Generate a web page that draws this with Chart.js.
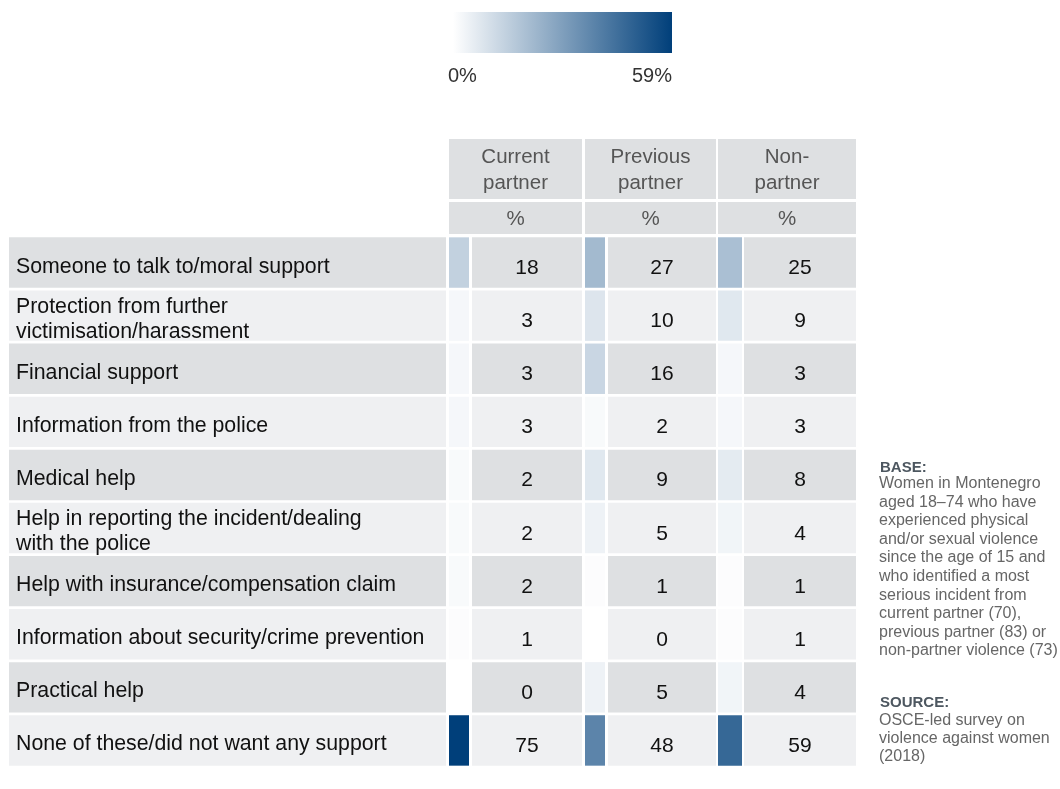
<!DOCTYPE html>
<html>
<head>
<meta charset="utf-8">
<script src="https://cdn.jsdelivr.net/npm/chart.js@4.4.1/dist/chart.umd.min.js"></script>
<style>
    html, body { margin: 0; padding: 0; background: #fff; }
    #wrap { width: 1060px; height: 789px; }
</style>
</head>
<body>
<div id="wrap"><canvas id="chart" width="1060" height="789"></canvas></div>
<script>
// ===================== DATA =====================
const supportTypes = [
    'Someone to talk to/moral support',
    ['Protection from further', 'victimisation/harassment'],
    'Financial support',
    'Information from the police',
    'Medical help',
    ['Help in reporting the incident/dealing', 'with the police'],
    'Help with insurance/compensation claim',
    'Information about security/crime prevention',
    'Practical help',
    'None of these/did not want any support'
];
const groupNames = [['Current', 'partner'], ['Previous', 'partner'], ['Non-', 'partner']];
const currentPartner = [18, 3, 3, 3, 2, 2, 2, 1, 0, 75];
const previousPartner = [27, 10, 16, 2, 9, 5, 1, 0, 5, 48];
const nonPartner = [25, 9, 3, 3, 8, 4, 1, 1, 4, 59];
const legendTicks = ['0%', '59%'];
const baseNote = [
    'Women in Montenegro',
    'aged 18\u201374 who have',
    'experienced physical',
    'and/or sexual violence',
    'since the age of 15 and',
    'who identified a most',
    'serious incident from',
    'current partner (70),',
    'previous partner (83) or',
    'non-partner violence (73)'
];
const sourceNote = ['OSCE-led survey on', 'violence against women', '(2018)'];

// ===================== LAYOUT & STYLE =====================
const FONT = '"Liberation Sans", Arial, sans-serif';
const ROW_DARK = '#dee0e2';
const ROW_LIGHT = '#eff0f2';
const DARK_BLUE = [0, 63, 122];

// x positions in axis units (1 unit = 1px of chart area)
const labelCell = [0, 437];
const columns = [
    { strip: [440, 460], cell: [463, 573], values: currentPartner },
    { strip: [576, 596], cell: [599, 707], values: previousPartner },
    { strip: [709, 733], cell: [735, 847], values: nonPartner }
];

const colorMax = Math.max(...currentPartner, ...previousPartner, ...nonPartner);

function shade(v) {
    const t = Math.min(1, v / colorMax);
    const c = DARK_BLUE.map(function(ch) { return Math.round(255 - t * (255 - ch)); });
    return 'rgb(' + c.join(',') + ')';
}

function rowFill(i) {
    return i % 2 === 0 ? ROW_DARK : ROW_LIGHT;
}

// ===================== DATASETS =====================
const barBase = {
    grouped: false,
    borderWidth: 0,
    borderSkipped: false,
    categoryPercentage: 1,
    barPercentage: 0.95
};

const datasets = [
    Object.assign({
        label: 'labels',
        data: supportTypes.map(function() { return labelCell; }),
        backgroundColor: supportTypes.map(function(_, i) { return rowFill(i); })
    }, barBase)
];

columns.forEach(function(col, c) {
    datasets.push(Object.assign({
        label: 'strip' + c,
        data: col.values.map(function() { return col.strip; }),
        backgroundColor: col.values.map(shade)
    }, barBase));
    datasets.push(Object.assign({
        label: 'cell' + c,
        data: col.values.map(function() { return col.cell; }),
        backgroundColor: col.values.map(function(_, i) { return rowFill(i); }),
        cellValues: col.values
    }, barBase));
});

// ===================== TEXT / DECORATION PLUGIN =====================
const tablePlugin = {
    id: 'tablePlugin',
    beforeDatasetsDraw: function(chart) {
        const ctx = chart.ctx;
        const x = chart.scales.x;
        ctx.save();

        // colour legend
        const gx0 = 453, gx1 = 672;
        const grad = ctx.createLinearGradient(gx0, 0, gx1, 0);
        grad.addColorStop(0, '#ffffff');
        grad.addColorStop(1, 'rgb(' + DARK_BLUE.join(',') + ')');
        ctx.fillStyle = grad;
        ctx.fillRect(gx0, 12, gx1 - gx0, 41);
        ctx.fillStyle = '#333';
        ctx.font = '20px ' + FONT;
        ctx.textBaseline = 'alphabetic';
        ctx.textAlign = 'left';
        ctx.fillText(legendTicks[0], 448, 82);
        ctx.textAlign = 'right';
        ctx.fillText(legendTicks[1], gx1, 82);

        // column headers
        columns.forEach(function(col, c) {
            const left = x.getPixelForValue(col.strip[0]);
            const right = x.getPixelForValue(col.cell[1]);
            const mid = (left + right) / 2;
            ctx.fillStyle = ROW_DARK;
            ctx.fillRect(left, 139, right - left, 60);
            ctx.fillRect(left, 202, right - left, 32);
            ctx.fillStyle = '#555';
            ctx.font = '20.5px ' + FONT;
            ctx.textAlign = 'center';
            ctx.fillText(groupNames[c][0], mid, 163);
            ctx.fillText(groupNames[c][1], mid, 189);
            ctx.fillText('%', mid, 225);
        });

        // notes on the right
        ctx.textAlign = 'left';
        ctx.fillStyle = '#4d5760';
        ctx.font = 'bold 15px ' + FONT;
        ctx.fillText('BASE:', 880, 472);
        ctx.fillText('SOURCE:', 880, 707);
        ctx.fillStyle = '#666';
        ctx.font = '16px ' + FONT;
        baseNote.forEach(function(line, i) {
            ctx.fillText(line, 879, 488 + i * 18.6);
        });
        sourceNote.forEach(function(line, i) {
            ctx.fillText(line, 879, 725 + i * 18.2);
        });
        ctx.restore();
    },
    afterDatasetsDraw: function(chart) {
        const ctx = chart.ctx;
        const x = chart.scales.x;
        const y = chart.scales.y;
        ctx.save();

        // row labels
        ctx.fillStyle = '#111';
        ctx.font = '21.3px ' + FONT;
        ctx.textAlign = 'left';
        ctx.textBaseline = 'alphabetic';
        const textX = x.getPixelForValue(labelCell[0]) + 7;
        supportTypes.forEach(function(label, i) {
            const cy = y.getPixelForValue(i);
            if (Array.isArray(label)) {
                ctx.fillText(label[0], textX, cy - 3);
                ctx.fillText(label[1], textX, cy + 22);
            } else {
                ctx.fillText(label, textX, cy + 10);
            }
        });

        // values in the cells
        ctx.font = '21px ' + FONT;
        ctx.textAlign = 'center';
        chart.data.datasets.forEach(function(ds, d) {
            if (!ds.cellValues) return;
            chart.getDatasetMeta(d).data.forEach(function(el, i) {
                ctx.fillText(String(ds.cellValues[i]), (el.x + el.base) / 2, el.y + 11.5);
            });
        });
        ctx.restore();
    }
};

// ===================== CHART =====================
const chart = new Chart(document.getElementById('chart').getContext('2d'), {
    type: 'bar',
    data: {
        labels: supportTypes,
        datasets: datasets
    },
    options: {
        indexAxis: 'y',
        responsive: false,
        animation: false,
        devicePixelRatio: 1,
        layout: {
            padding: { left: 9, right: 204, top: 236, bottom: 22 }
        },
        plugins: {
            legend: { display: false },
            tooltip: { enabled: false }
        },
        scales: {
            x: { type: 'linear', min: 0, max: 847, display: false },
            y: { type: 'category', display: false, offset: true }
        }
    },
    plugins: [tablePlugin]
});
</script>
</body>
</html>
